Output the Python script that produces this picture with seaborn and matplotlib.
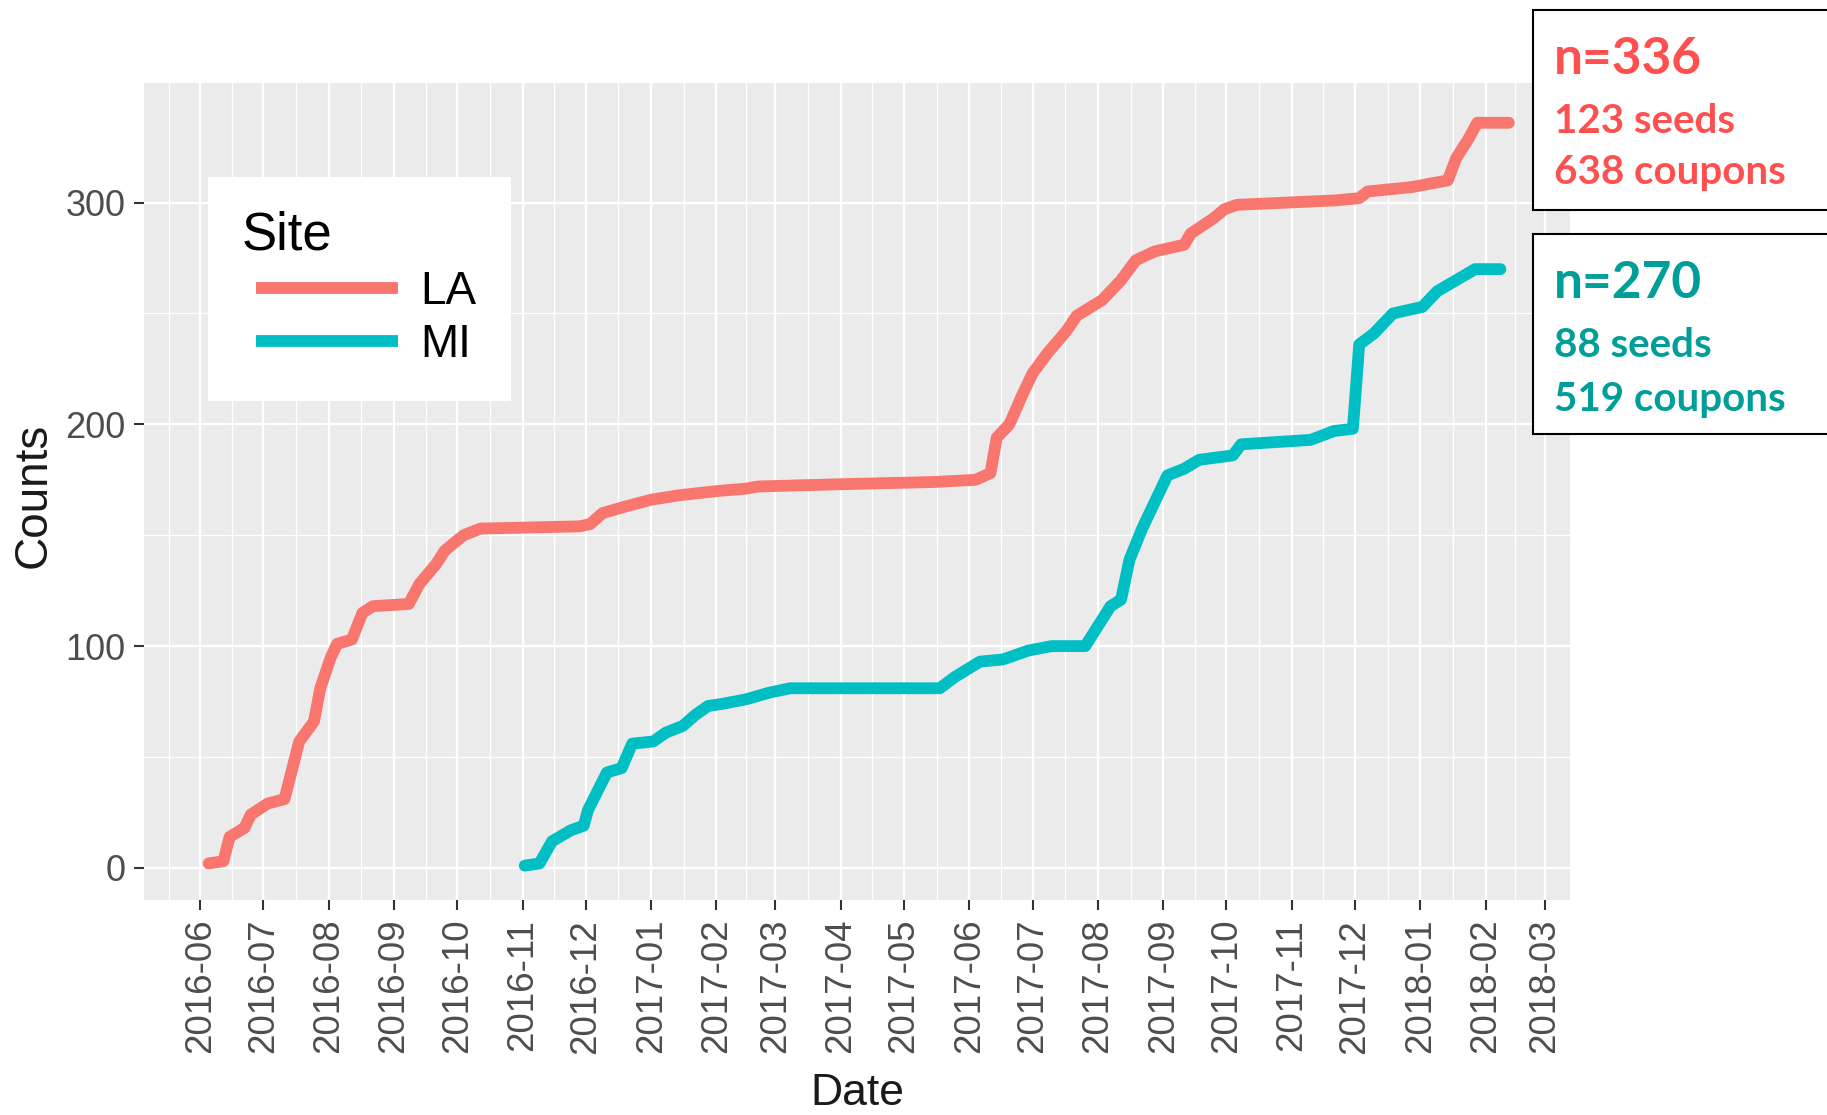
import pandas as pd
import numpy as np
import matplotlib
matplotlib.use("Agg")
import matplotlib.pyplot as plt
import matplotlib.dates as mdates
from matplotlib.patches import Rectangle
from matplotlib.lines import Line2D
from matplotlib.legend_handler import HandlerLine2D
from matplotlib.ticker import FixedLocator
import seaborn as sns

# Cumulative counts per site
la_dates = ["2016-06-05", "2016-06-12", "2016-06-15", "2016-06-22", "2016-06-25",
            "2016-07-03", "2016-07-11", "2016-07-18", "2016-07-25", "2016-07-28",
            "2016-08-02", "2016-08-05", "2016-08-12", "2016-08-17", "2016-08-22",
            "2016-09-08", "2016-09-13", "2016-09-21", "2016-09-25", "2016-10-04",
            "2016-10-12", "2016-11-28", "2016-12-03", "2016-12-09", "2016-12-20",
            "2017-01-01", "2017-01-14", "2017-02-02", "2017-02-15", "2017-02-21",
            "2017-04-01", "2017-05-15", "2017-06-04", "2017-06-11", "2017-06-14",
            "2017-06-20", "2017-06-26", "2017-07-01", "2017-07-08", "2017-07-17",
            "2017-07-22", "2017-08-03", "2017-08-12", "2017-08-19", "2017-08-28",
            "2017-09-11", "2017-09-14", "2017-09-25", "2017-09-30", "2017-10-06",
            "2017-11-22", "2017-12-03", "2017-12-07", "2017-12-28", "2018-01-14",
            "2018-01-18", "2018-01-24", "2018-01-28", "2018-02-12"]
la_counts = [2, 3, 14, 18, 24,
             29, 31, 57, 66, 81,
             95, 101, 103, 115, 118,
             119, 128, 137, 143, 150,
             153, 154, 155, 160, 163,
             166, 168, 170, 171, 172,
             173, 174, 175, 178, 194,
             200, 213, 223, 232, 242,
             249, 256, 265, 274, 278,
             281, 286, 293, 297, 299,
             301, 302, 305, 307, 310,
             320, 329, 336, 336]

mi_dates = ["2016-11-02", "2016-11-09", "2016-11-15", "2016-11-24", "2016-11-30",
            "2016-12-02", "2016-12-11", "2016-12-18", "2016-12-23", "2017-01-02",
            "2017-01-08", "2017-01-16", "2017-01-22", "2017-01-28", "2017-02-04",
            "2017-02-15", "2017-02-26", "2017-03-08", "2017-05-18", "2017-05-25",
            "2017-06-06", "2017-06-17", "2017-06-29", "2017-07-10", "2017-07-26",
            "2017-08-01", "2017-08-07", "2017-08-12", "2017-08-16", "2017-08-22",
            "2017-08-28", "2017-09-03", "2017-09-11", "2017-09-18", "2017-10-04",
            "2017-10-08", "2017-11-10", "2017-11-21", "2017-11-30", "2017-12-03",
            "2017-12-10", "2017-12-19", "2018-01-02", "2018-01-09", "2018-01-18",
            "2018-01-27", "2018-02-08"]
mi_counts = [1, 2, 12, 17, 19,
             26, 43, 45, 56, 57,
             61, 64, 69, 73, 74,
             76, 79, 81, 81, 86,
             93, 94, 98, 100, 100,
             109, 118, 121, 139, 153,
             165, 177, 180, 184, 186,
             191, 193, 197, 198, 236,
             241, 250, 253, 260, 265,
             270, 270]

site_colors = {"LA": "#F8766D", "MI": "#00BFC4"}
box_texts = {"LA": ["n=336", "123 seeds", "638 coupons"],
             "MI": ["n=270", "88 seeds", "519 coupons"]}
box_colors = {"LA": "#FF5050", "MI": "#009E98"}

df = pd.concat([
    pd.DataFrame({"Date": pd.to_datetime(la_dates), "Counts": la_counts, "Site": "LA"}),
    pd.DataFrame({"Date": pd.to_datetime(mi_dates), "Counts": mi_counts, "Site": "MI"}),
], ignore_index=True)


# legend keys indented a little from the title, like ggplot
class IndentedLine(HandlerLine2D):
    def create_artists(self, legend, orig_handle, xdescent, ydescent,
                       width, height, fontsize, trans):
        indent = 0.3 * fontsize
        return super().create_artists(legend, orig_handle, xdescent - indent, ydescent,
                                      width - indent, height, fontsize, trans)


sns.set_theme(style="darkgrid")
plt.rcParams["font.family"] = ["Liberation Sans", "DejaVu Sans"]

fig = plt.figure(figsize=(18.27, 11.15), dpi=100)
ax = fig.add_axes([0.079, 0.1928, 0.7803, 0.7325])
ax.set_facecolor("#EBEBEB")

sns.lineplot(data=df, x="Date", y="Counts", hue="Site", palette=site_colors,
             estimator=None, linewidth=8.5, solid_capstyle="round", legend=False, ax=ax)

ax.set_xlim(pd.Timestamp("2016-05-05 12:00"), pd.Timestamp("2018-03-13"))
ax.set_ylim(-14.5, 353.8)

# x axis: monthly breaks, minor lines halfway between
ax.xaxis.set_major_locator(mdates.MonthLocator())
ax.xaxis.set_major_formatter(mdates.DateFormatter("%Y-%m"))
majors = ax.get_xticks()
step = np.diff(majors)
mids = list(majors[:-1] + step / 2) + [majors[0] - step[0] / 2, majors[-1] + step[-1] / 2]
ax.xaxis.set_minor_locator(FixedLocator(mids))
ax.set_yticks([0, 100, 200, 300])
ax.yaxis.set_minor_locator(FixedLocator([50, 150, 250]))

ax.grid(which="major", color="white", linewidth=1.7)
ax.grid(which="minor", color="white", linewidth=1.0)
for s in ax.spines.values():
    s.set_visible(False)

ax.tick_params(which="major", length=7.5, width=1.5, color="#333333",
               labelcolor="#4D4D4D", pad=6)
ax.tick_params(which="minor", length=0)
ax.tick_params(axis="y", labelsize=26)
ax.tick_params(axis="x", which="major", labelrotation=90, labelsize=26.5, pad=6)
ax.tick_params(axis="both", bottom=True, left=True)

ax.set_xlabel("Date", fontsize=32, color="#1A1A1A")
ax.set_ylabel("Counts", fontsize=33, color="#1A1A1A", va="center")
ax.xaxis.set_label_coords(0.5, -0.212)
ax.yaxis.set_label_coords(-0.0777, 0.495)

handles = [Line2D([], [], color=site_colors[s], linewidth=8.5, solid_capstyle="butt")
           for s in ["LA", "MI"]]
leg = ax.legend(handles, ["LA", "MI"], title="Site", loc="upper left",
                bbox_to_anchor=(0.0447, 0.8853), borderaxespad=0,
                fontsize=33, title_fontsize=38, frameon=True, fancybox=False,
                handlelength=3.4, handletextpad=0.5, labelspacing=0.2,
                borderpad=0.74, alignment="left",
                handler_map={Line2D: IndentedLine()})
leg.get_frame().set_facecolor("white")
leg.get_frame().set_edgecolor("none")
leg.get_frame().set_alpha(1)
for t in leg.get_texts():
    t.set_color("black")
leg.get_title().set_color("black")

# annotation boxes on the right
tops = {"LA": 0.991, "MI": 0.790}
baselines = {"LA": [0.9336, 0.8807, 0.835], "MI": [0.7327, 0.6798, 0.6314]}
for site in ["LA", "MI"]:
    fig.add_artist(Rectangle((0.839, tops[site] - 0.1793), 0.2, 0.1793,
                             transform=fig.transFigure, facecolor="white",
                             edgecolor="black", linewidth=1.5))
    for i, txt in enumerate(box_texts[site]):
        fig.text(0.8506, baselines[site][i], txt, color=box_colors[site],
                 fontsize=37 if i == 0 else 29, fontweight="bold",
                 family=["Lato", "DejaVu Sans"], va="baseline", ha="left")

fig.savefig("out.png", dpi=100)
